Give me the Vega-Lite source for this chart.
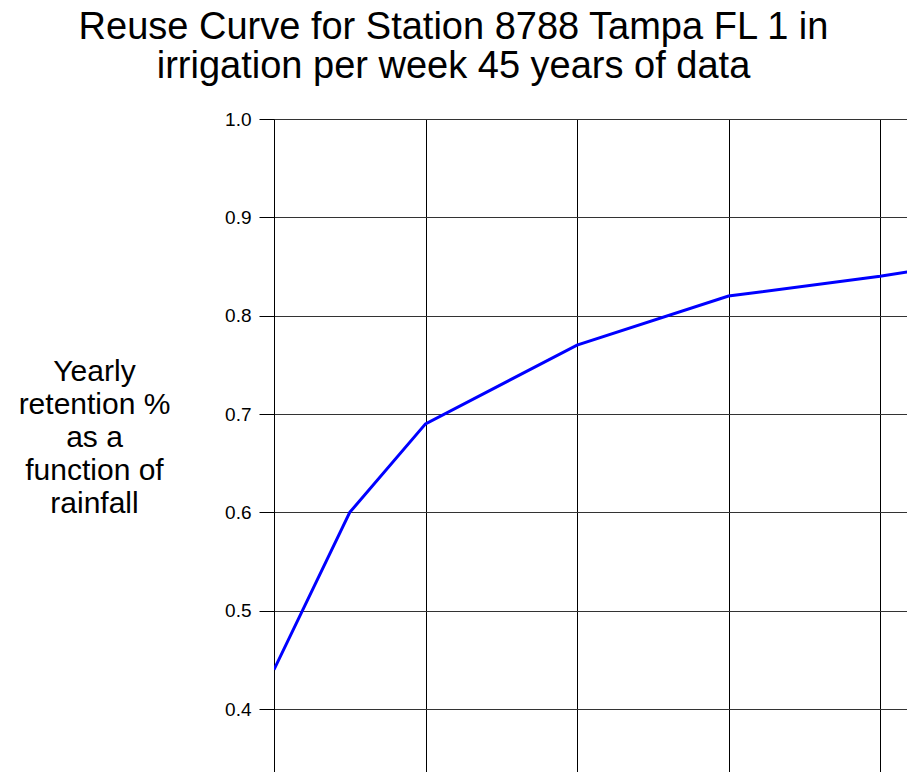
{
  "$schema": "https://vega.github.io/schema/vega-lite/v6.json",
  "width": 633,
  "height": 653,
  "autosize": {"type": "none"},
  "padding": {"left": 274, "top": 119, "right": 0, "bottom": 0},
  "background": "white",
  "title": {
    "text": ["Reuse Curve for Station 8788 Tampa FL 1 in", "irrigation per week 45 years of data"],
    "font": "Liberation Sans",
    "fontSize": 38,
    "fontWeight": "normal",
    "color": "#000000",
    "lineHeight": 39,
    "anchor": "middle",
    "frame": "group",
    "dx": -137,
    "offset": 24
  },
  "config": {
    "view": {"stroke": null},
    "font": "Liberation Sans"
  },
  "data": {
    "values": [
      {"rainfall": 0, "retention": 0.44},
      {"rainfall": 0.5, "retention": 0.60},
      {"rainfall": 1, "retention": 0.69},
      {"rainfall": 2, "retention": 0.77},
      {"rainfall": 3, "retention": 0.82},
      {"rainfall": 4, "retention": 0.84},
      {"rainfall": 5, "retention": 0.865}
    ]
  },
  "mark": {"type": "line", "color": "#0000ff", "strokeWidth": 3, "clip": true},
  "encoding": {
    "x": {
      "field": "rainfall",
      "type": "quantitative",
      "scale": {"domain": [0, 4.178], "nice": false, "zero": false},
      "axis": {
        "values": [0, 1, 2, 3, 4],
        "domain": false,
        "labels": false,
        "ticks": false,
        "title": null,
        "grid": true,
        "gridColor": "#000000",
        "gridOpacity": 1,
        "gridWidth": 1
      }
    },
    "y": {
      "field": "retention",
      "type": "quantitative",
      "scale": {"domain": [0.336, 1.0], "nice": false, "zero": false},
      "axis": {
        "values": [0.4, 0.5, 0.6, 0.7, 0.8, 0.9, 1.0],
        "format": ".1f",
        "grid": true,
        "gridColor": "#333333",
        "gridOpacity": 1,
        "gridWidth": 1,
        "domain": true,
        "domainColor": "#000000",
        "domainWidth": 1,
        "ticks": true,
        "tickColor": "#000000",
        "tickSize": 15,
        "tickWidth": 1,
        "labelFont": "Liberation Sans",
        "labelFontSize": 19,
        "labelColor": "#000000",
        "labelPadding": 8,
        "labelFlush": false,
        "labelOverlap": false,
        "title": ["Yearly", "retention %", "as a", "function of", "rainfall"],
        "titleFont": "Liberation Sans",
        "titleFontSize": 30,
        "titleFontWeight": "normal",
        "titleColor": "#000000",
        "titleAngle": 0,
        "titleAlign": "center",
        "titleBaseline": "alphabetic",
        "titleLineHeight": 33,
        "titleX": -180,
        "titleY": 261
      }
    }
  }
}
